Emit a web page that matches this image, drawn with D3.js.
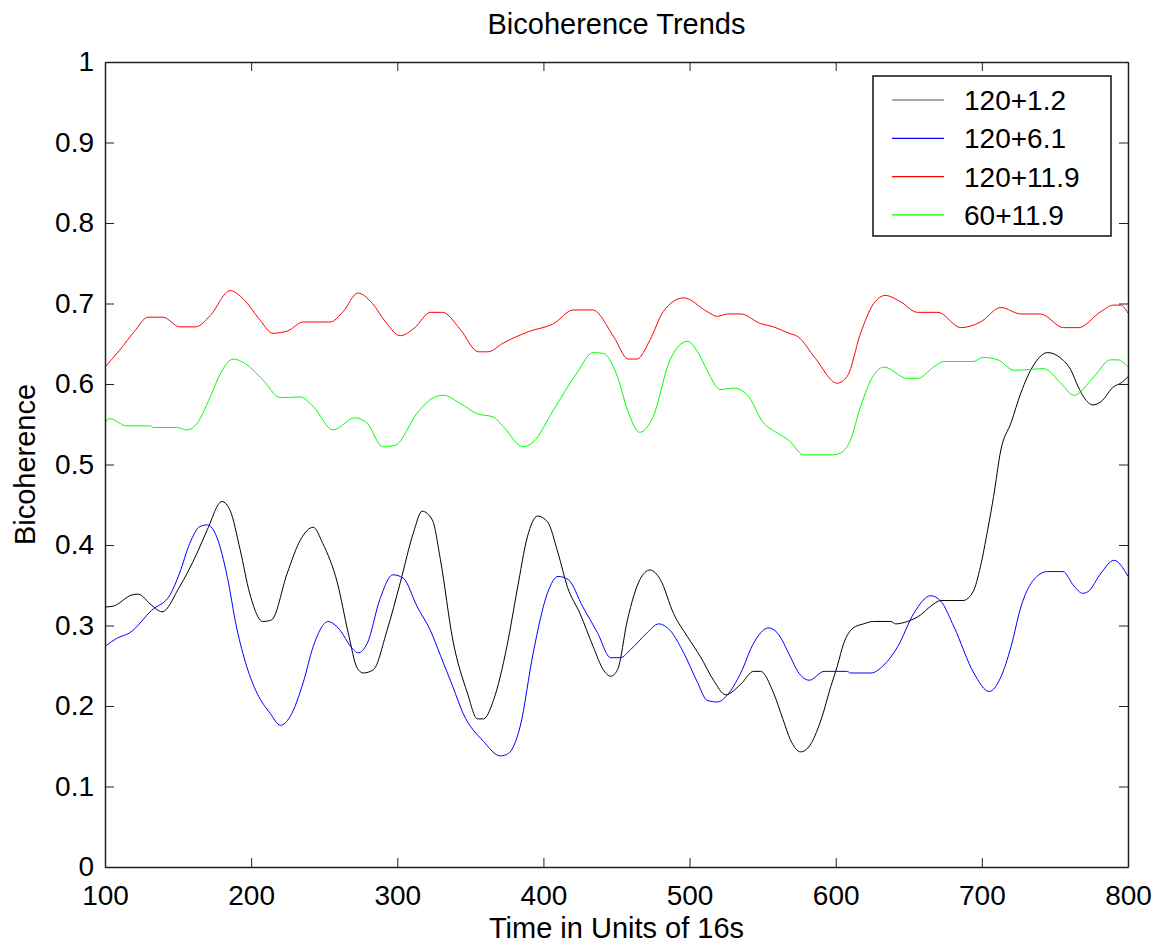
<!DOCTYPE html>
<html>
<head>
<meta charset="utf-8">
<script src="https://cdn.jsdelivr.net/npm/d3@7.9.0/dist/d3.min.js"></script>
<style>
  body { margin: 0; background: #fff; }
  svg { display: block; font-family: "Liberation Sans", Arial, sans-serif; }
</style>
</head>
<body>
<div id="chart"></div>
<script>
// series: [time, bicoherence]
const black = [
  [100,0.323],[105.5,0.324],[118.5,0.338],[122.6,0.339],[132,0.325],[139,0.317],[151,0.348],
  [163,0.390],[170,0.419],[180,0.454],[185.6,0.443],[192.5,0.394],[199,0.340],[208,0.305],
  [214,0.307],[224.7,0.365],[233.6,0.406],[242.5,0.422],[249,0.402],[259,0.353],[266.4,0.291],
  [272.6,0.247],[276.7,0.241],[283.6,0.245],[293,0.294],[302,0.353],[311,0.415],[317,0.442],
  [324,0.431],[329.5,0.382],[338,0.282],[348,0.216],[354.8,0.184],[359,0.184],[365.8,0.207],
  [375,0.274],[382,0.344],[389,0.410],[396,0.436],[402.7,0.429],[410,0.390],[416.4,0.348],
  [425,0.315],[434,0.274],[441,0.245],[446,0.237],[450.7,0.245],[457.5,0.307],[466,0.357],
  [473,0.369],[480,0.357],[489,0.315],[498.6,0.286],[507.5,0.261],[516.4,0.232],[524.7,0.214],
  [535,0.227],[543.8,0.243],[548.6,0.243],[557.5,0.216],[564,0.183],[569,0.158],[576,0.143],
  [581.5,0.149],[590,0.183],[596.6,0.224],[601,0.249],[605.5,0.278],[612,0.297],[619,0.302],
  [626,0.305],[637.7,0.305],[641,0.302],[649,0.305],[658,0.313],[665,0.324],[672,0.331],
  [687,0.331],[694,0.342],[699,0.373],[704,0.419],[708,0.460],[713,0.518],[720,0.552],
  [726.7,0.589],[735.6,0.624],[745,0.639],[754,0.632],[761,0.617],[765.8,0.597],[770,0.583],
  [776,0.574],[781.5,0.578],[790.4,0.597],[795,0.601],[800,0.609]
];
const blue = [
  [100,0.274],[108,0.284],[117,0.291],[132,0.319],[144.5,0.338],[151,0.365],[158,0.402],
  [165,0.423],[170,0.425],[176.7,0.409],[183.6,0.361],[190,0.298],[197,0.249],[204,0.216],
  [213,0.191],[220,0.176],[226.7,0.187],[235.6,0.229],[242.5,0.274],[252.7,0.305],[259,0.298],
  [270,0.270],[273,0.266],[279.5,0.278],[288,0.332],[297,0.363],[304,0.359],[313.7,0.323],
  [322.6,0.294],[329.5,0.263],[338,0.224],[345,0.191],[359,0.156],[370.5,0.138],[376,0.141],
  [384,0.174],[393,0.266],[402.7,0.340],[410,0.361],[417,0.357],[427,0.323],[437,0.291],
  [446,0.260],[452.7,0.260],[459.6,0.270],[471,0.291],[478.8,0.302],[486.6,0.294],[496,0.266],
  [505.5,0.229],[512,0.207],[519,0.205],[526,0.214],[535,0.241],[543.8,0.278],[554,0.297],
  [560,0.291],[569,0.261],[574,0.243],[582,0.232],[592,0.243],[608,0.243],[610,0.241],
  [624,0.241],[633,0.251],[642.5,0.274],[653.4,0.315],[665,0.337],[672,0.330],[681,0.298],
  [694.5,0.241],[705,0.218],[713,0.236],[720,0.274],[726.7,0.323],[739,0.363],[745,0.367],
  [755.5,0.367],[763,0.349],[769,0.340],[772.6,0.342],[781.5,0.365],[790.4,0.381],[800,0.361]
];
const red = [
  [100,0.621],[110,0.642],[120,0.665],[129.5,0.683],[139.7,0.683],[151,0.671],[162,0.671],
  [172,0.685],[185.6,0.716],[195,0.705],[205,0.682],[215,0.663],[225,0.666],[235.6,0.677],
  [254,0.677],[263,0.690],[273,0.713],[283,0.700],[292,0.677],[302,0.660],[312,0.670],
  [322.6,0.689],[331,0.689],[343,0.668],[355.5,0.640],[362,0.640],[372.6,0.651],[389.7,0.665],
  [407,0.675],[420.5,0.692],[433.6,0.692],[448,0.659],[458,0.631],[464,0.631],[473,0.655],
  [482,0.690],[496,0.707],[512,0.690],[519,0.684],[526,0.687],[535,0.687],[548.6,0.675],
  [557.5,0.671],[568,0.663],[574,0.659],[586,0.632],[601,0.601],[608,0.610],[617,0.663],
  [626,0.700],[634,0.710],[644.5,0.702],[656,0.689],[670,0.689],[685.6,0.670],[699,0.677],
  [713,0.695],[726.7,0.687],[740,0.687],[756,0.670],[766,0.670],[781.5,0.690],[790,0.698],
  [795,0.698],[800,0.688]
];
const green = [
  [100,0.552],[103,0.557],[115,0.548],[131,0.548],[133,0.546],[149,0.546],[156,0.543],
  [163,0.551],[172,0.584],[179,0.613],[187.7,0.631],[194.5,0.627],[208,0.605],[220,0.583],
  [233.6,0.584],[242.5,0.572],[256,0.543],[271,0.558],[279.5,0.551],[290,0.522],[298.6,0.524],
  [313.7,0.564],[324.7,0.583],[331.5,0.586],[343,0.576],[354.8,0.563],[365.8,0.559],
  [372.6,0.547],[386,0.522],[393,0.528],[407,0.568],[423,0.614],[434,0.639],[441,0.638],
  [450.7,0.609],[457.5,0.568],[466,0.540],[475,0.559],[486.6,0.630],[498.6,0.653],[505.5,0.640],
  [512,0.617],[521,0.593],[530,0.595],[539.7,0.586],[550,0.553],[560,0.539],[568,0.530],
  [578,0.512],[598,0.512],[603,0.514],[610,0.530],[617,0.572],[626,0.611],[633,0.621],
  [649,0.607],[656,0.607],[667,0.621],[674,0.628],[694,0.628],[701,0.633],[711,0.630],
  [722,0.617],[742.5,0.619],[754,0.601],[763,0.586],[776.7,0.609],[788,0.630],[793,0.630],
  [800,0.621]
];

const seriesNames = ['120+1.2', '120+6.1', '120+11.9', '60+11.9'];
const seriesColors = ['#000000', '#0000ff', '#ff0000', '#00ff00'];
const seriesData = [black, blue, red, green];
const xTicks = [100, 200, 300, 400, 500, 600, 700, 800];
const yTicks = [0, 0.1, 0.2, 0.3, 0.4, 0.5, 0.6, 0.7, 0.8, 0.9, 1];

const width = 1159;
const height = 949;
const margin = { top: 62, right: 31, bottom: 82, left: 105 };

const svg = d3.select('#chart')
  .append('svg')
  .attr('width', width)
  .attr('height', height);

const xScale = d3.scaleLinear().domain([100, 800]).range([margin.left, width - margin.right]);
const yScale = d3.scaleLinear().domain([0, 1]).range([height - margin.bottom, margin.top]);

// lines
const line = d3.line()
  .x(d => xScale(d[0]))
  .y(d => yScale(d[1]))
  .curve(d3.curveMonotoneX);

svg.append('g')
  .selectAll('path')
  .data(seriesData)
  .join('path')
  .attr('d', line)
  .attr('fill', 'none')
  .attr('stroke', (d, i) => seriesColors[i])
  .attr('stroke-width', 1);

// axes: ticks pointing inward on all four sides
const tickLen = 9;
const styleAxis = g => {
  g.select('.domain').attr('stroke', '#222').attr('stroke-width', 1.5);
  g.selectAll('.tick line').attr('stroke', '#222').attr('stroke-width', 1);
  g.selectAll('.tick text').attr('fill', '#000').attr('font-size', 28)
    .attr('font-family', '"Liberation Sans", Arial, sans-serif');
};

svg.append('g')
  .attr('transform', `translate(0,${height - margin.bottom})`)
  .call(d3.axisBottom(xScale).tickValues(xTicks).tickSize(-tickLen).tickPadding(18).tickSizeOuter(0))
  .call(styleAxis);

svg.append('g')
  .attr('transform', `translate(0,${margin.top})`)
  .call(d3.axisTop(xScale).tickValues(xTicks).tickSize(-tickLen).tickFormat('').tickSizeOuter(0))
  .call(styleAxis);

svg.append('g')
  .attr('transform', `translate(${margin.left},0)`)
  .call(d3.axisLeft(yScale).tickValues(yTicks).tickSize(-tickLen).tickPadding(11)
    .tickFormat(d3.format('~g')).tickSizeOuter(0))
  .call(styleAxis);

svg.append('g')
  .attr('transform', `translate(${width - margin.right},0)`)
  .call(d3.axisRight(yScale).tickValues(yTicks).tickSize(-tickLen).tickFormat('').tickSizeOuter(0))
  .call(styleAxis);

// title and axis labels
svg.append('text')
  .attr('x', (margin.left + width - margin.right) / 2)
  .attr('y', 34)
  .attr('text-anchor', 'middle')
  .attr('font-size', 29)
  .text('Bicoherence Trends');

svg.append('text')
  .attr('x', (margin.left + width - margin.right) / 2)
  .attr('y', 938)
  .attr('text-anchor', 'middle')
  .attr('font-size', 29)
  .text('Time in Units of 16s');

svg.append('text')
  .attr('transform', `translate(35,${(margin.top + height - margin.bottom) / 2}) rotate(-90)`)
  .attr('text-anchor', 'middle')
  .attr('font-size', 29)
  .text('Bicoherence');

// legend
const legend = svg.append('g').attr('transform', 'translate(873,76)');
legend.append('rect')
  .attr('width', 238)
  .attr('height', 160)
  .attr('fill', '#fff')
  .attr('stroke', '#111')
  .attr('stroke-width', 1.5);

const rows = legend.selectAll('g.row')
  .data(seriesNames)
  .join('g')
  .attr('class', 'row')
  .attr('transform', (d, i) => `translate(0,${24 + i * 38.3})`);

rows.append('line')
  .attr('x1', 19).attr('x2', 71)
  .attr('stroke', (d, i) => i === 0 ? '#555' : seriesColors[i])
  .attr('stroke-width', 1.2);

rows.append('text')
  .attr('x', 91)
  .attr('y', 10)
  .attr('font-size', 28)
  .text(d => d);
</script>
</body>
</html>
